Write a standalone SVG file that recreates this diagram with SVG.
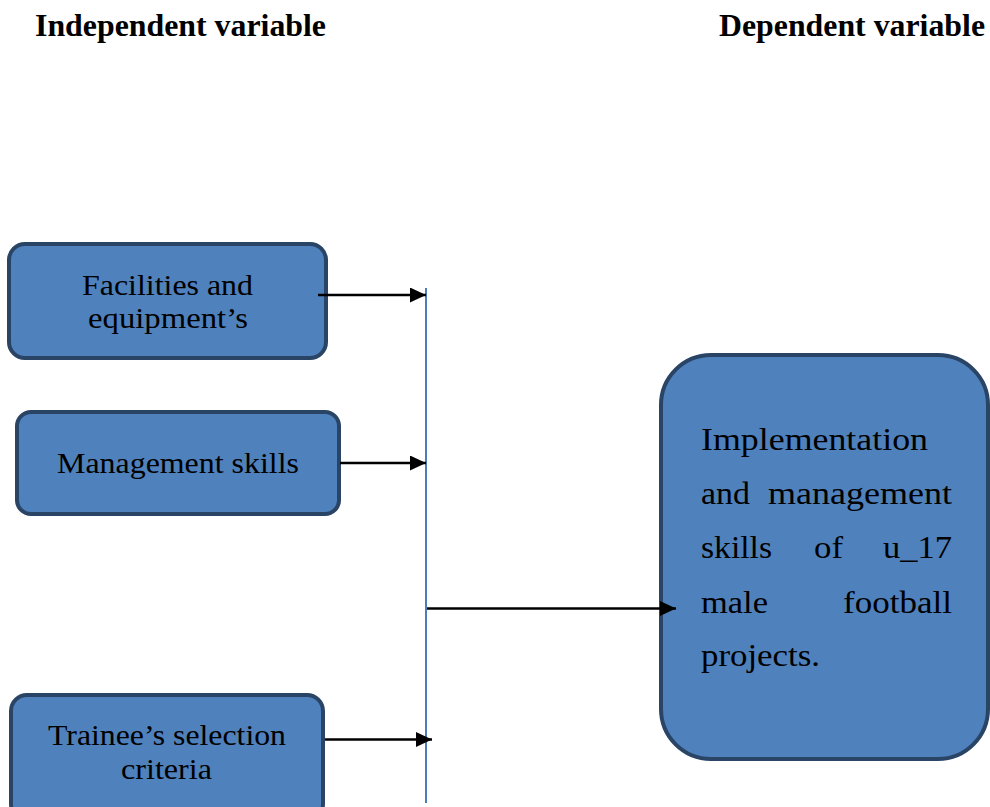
<svg xmlns="http://www.w3.org/2000/svg" width="990" height="807" viewBox="0 0 990 807">
<style>
.box{fill:#4F81BD;stroke:#2A4466;stroke-width:4}
.t{font-family:"Liberation Serif","Times New Roman",serif;font-size:29px;fill:#000}
.r{font-family:"Liberation Serif","Times New Roman",serif;font-size:32px;fill:#000}
.h{font-family:"Liberation Serif","Times New Roman",serif;font-size:32px;font-weight:bold;fill:#000}
.c{stroke:#000;stroke-width:2.5;fill:none}
</style>
<defs>
<marker id="ah" markerUnits="userSpaceOnUse" markerWidth="17" markerHeight="16" refX="16" refY="7.5" orient="auto">
<path d="M0,0 L16,7.5 L0,15 z" fill="#000"/>
</marker>
</defs>
<rect width="990" height="807" fill="#fff"/>
<text class="h" x="35" y="36" textLength="291" lengthAdjust="spacingAndGlyphs">Independent variable</text>
<text class="h" x="719" y="36" textLength="266" lengthAdjust="spacingAndGlyphs">Dependent variable</text>

<g id="node-facilities">
<rect class="box" x="9" y="244" width="317" height="114" rx="16"/>
<text class="t" x="82" y="295" textLength="171" lengthAdjust="spacingAndGlyphs">Facilities and</text>
<text class="t" x="88" y="328" textLength="160" lengthAdjust="spacingAndGlyphs">equipment’s</text>
</g>
<g id="node-management">
<rect class="box" x="17" y="412" width="322" height="102" rx="14"/>
<text class="t" x="57" y="473" textLength="242" lengthAdjust="spacingAndGlyphs">Management skills</text>
</g>
<g id="node-trainee">
<rect class="box" x="11" y="695" width="312" height="125" rx="16"/>
<text class="t" x="48" y="745" textLength="238" lengthAdjust="spacingAndGlyphs">Trainee’s selection</text>
<text class="t" x="121" y="779" textLength="91" lengthAdjust="spacingAndGlyphs">criteria</text>
</g>
<g id="node-implementation">
<rect class="box" x="661" y="355" width="327" height="404" rx="50"/>
<text class="r" x="701" y="450" textLength="227" lengthAdjust="spacingAndGlyphs">Implementation</text>
<text class="r" x="701" y="504" textLength="49" lengthAdjust="spacingAndGlyphs">and</text>
<text class="r" x="768" y="504" textLength="184" lengthAdjust="spacingAndGlyphs">management</text>
<text class="r" x="701" y="558" textLength="71" lengthAdjust="spacingAndGlyphs">skills</text>
<text class="r" x="814" y="558" textLength="29" lengthAdjust="spacingAndGlyphs">of</text>
<text class="r" x="883" y="558" textLength="69" lengthAdjust="spacingAndGlyphs">u_17</text>
<text class="r" x="701" y="613" textLength="67" lengthAdjust="spacingAndGlyphs">male</text>
<text class="r" x="843" y="613" textLength="109" lengthAdjust="spacingAndGlyphs">football</text>
<text class="r" x="701" y="666" textLength="119" lengthAdjust="spacingAndGlyphs">projects.</text>
</g>

<g id="connectors">
<line x1="426" y1="288" x2="426" y2="803" stroke="#4A7EBB" stroke-width="2"/>
<line class="c" x1="318" y1="295" x2="426" y2="295" marker-end="url(#ah)"/>
<line class="c" x1="340" y1="463" x2="426" y2="463" marker-end="url(#ah)"/>
<line class="c" x1="325" y1="739.5" x2="432" y2="739.5" marker-end="url(#ah)"/>
<line class="c" x1="427" y1="608.5" x2="676" y2="608.5" marker-end="url(#ah)"/>
</g>
</svg>
